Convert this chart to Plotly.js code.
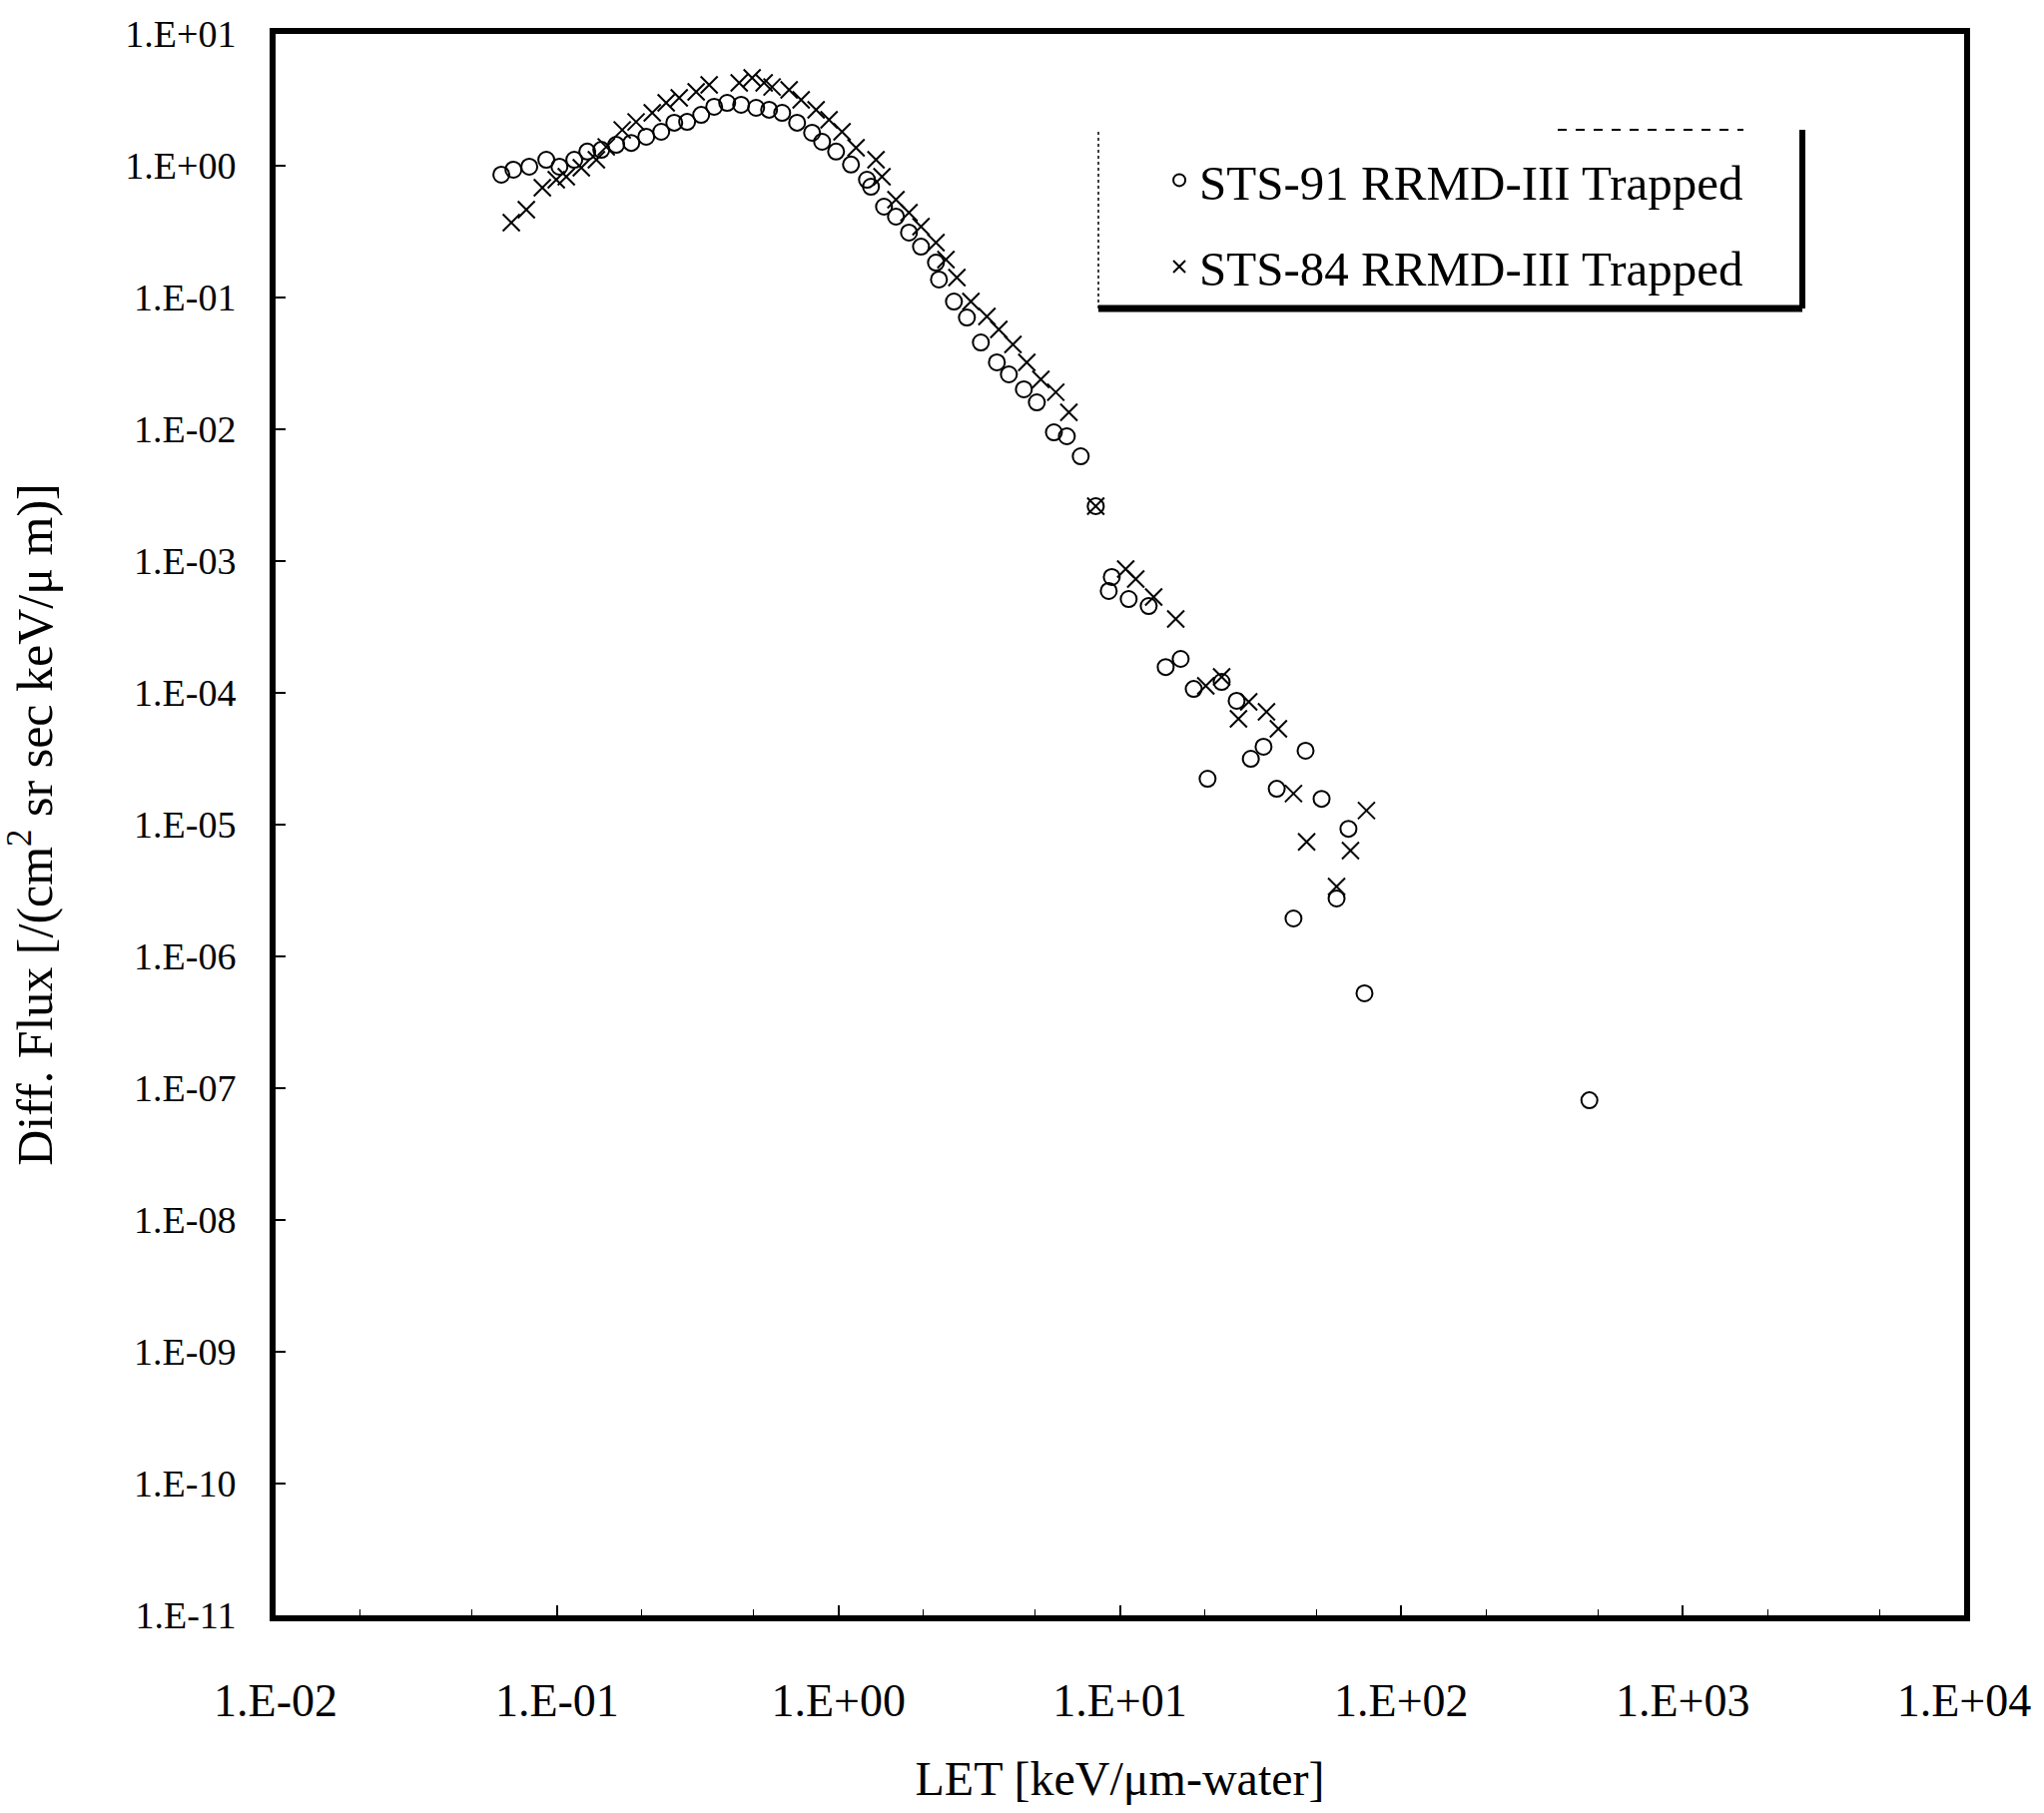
<!DOCTYPE html>
<html>
<head>
<meta charset="utf-8">
<script src="https://cdn.plot.ly/plotly-3.0.1.min.js"></script>
<style>
  html, body { margin: 0; padding: 0; background: #ffffff; }
  #chart { width: 2047px; height: 1816px; }
</style>
</head>
<body>
<div id="chart"></div>
<script>
// ---- Data ----
// STS-91 RRMD-III Trapped (open circles): LET [keV/um-water], Diff. Flux
const sts91LET = [
  0.0634, 0.070, 0.0797, 0.0916, 0.102, 0.1152, 0.1281, 0.1437, 0.1623, 0.1836,
  0.2075, 0.2346, 0.261, 0.290, 0.3253, 0.3618, 0.4024, 0.451, 0.510, 0.567,
  0.631, 0.713, 0.806, 0.875, 0.981, 1.108, 1.263, 1.305, 1.452, 1.601,
  1.781, 1.965, 2.221, 2.276, 2.573, 2.861, 3.207, 3.656, 4.033, 4.56,
  5.07, 5.83, 6.48, 7.26, 8.21,
  9.13, 9.36, 10.75, 12.66, 14.55, 16.45, 18.3, 20.5, 23.0, 26.0,
  29.2, 32.4, 36.1, 45.7, 52.1, 64.9, 58.9, 41.4, 74.0, 466
];
const sts91Flux = [
  0.855, 0.933, 0.983, 1.11, 0.983, 1.11, 1.28, 1.32, 1.44, 1.49,
  1.66, 1.81, 2.12, 2.15, 2.43, 2.80, 3.00, 2.90, 2.75, 2.66,
  2.52, 2.12, 1.78, 1.52, 1.28, 1.02, 0.783, 0.693, 0.489, 0.411,
  0.311, 0.243, 0.184, 0.137, 0.0932, 0.0705, 0.0456, 0.0322, 0.0261, 0.0201,
  0.0160, 0.00948, 0.00885, 0.00624, 0.00261,
  5.93e-4, 7.57e-4, 5.15e-4, 4.56e-4, 1.57e-4, 1.81e-4, 1.07e-4, 2.23e-5, 1.21e-4, 8.7e-5,
  3.16e-5, 3.9e-5, 1.87e-5, 3.64e-5, 1.57e-5, 9.3e-6, 2.75e-6, 1.94e-6, 5.25e-7, 8.1e-8
];

// STS-84 RRMD-III Trapped (crosses)
const sts84LET = [
  0.0688, 0.0778, 0.0887, 0.0994, 0.1079, 0.122, 0.138, 0.1496, 0.1705, 0.191,
  0.218, 0.2443, 0.2718, 0.3122, 0.3472, 0.444, 0.4935, 0.5445, 0.581, 0.668,
  0.737, 0.833, 0.926, 1.030, 1.155, 1.360, 1.428, 1.601, 1.781, 1.965,
  2.221, 2.41, 2.636, 2.956, 3.37, 3.715, 4.17, 4.67, 5.24, 5.92,
  6.59, 8.21,
  10.49, 11.39, 13.19, 15.80, 20.2, 23.0, 26.4, 28.7, 33.2, 36.6,
  41.4, 46.1, 58.9, 66.0, 75.2
];
const sts84Flux = [
  0.370, 0.464, 0.681, 0.783, 0.825, 0.966, 1.11, 1.39, 1.87, 2.15,
  2.52, 3.00, 3.27, 3.64, 4.11, 4.26, 4.64, 4.26, 3.96, 3.77,
  3.16, 2.66, 2.23, 1.81, 1.37, 1.11, 0.825, 0.553, 0.440, 0.345,
  0.261, 0.194, 0.1417, 0.0932, 0.0718, 0.0573, 0.044, 0.0322, 0.0239, 0.0191,
  0.01346, 0.00261,
  8.7e-4, 7.3e-4, 5.33e-4, 3.64e-4, 1.13e-4, 1.32e-4, 6.36e-5, 8.55e-5, 7.18e-5, 5.33e-5,
  1.72e-5, 7.4e-6, 3.39e-6, 6.35e-6, 1.28e-5
];

const seriesNames = ["STS-91 RRMD-III Trapped", "STS-84 RRMD-III Trapped"];

// Tick labels
const xTickVals = [1e-2, 1e-1, 1e0, 1e1, 1e2, 1e3, 1e4];
const xTickText = ["1.E-02", "1.E-01", "1.E+00", "1.E+01", "1.E+02", "1.E+03", "1.E+04"];
const yTickVals = [1e1, 1e0, 1e-1, 1e-2, 1e-3, 1e-4, 1e-5, 1e-6, 1e-7, 1e-8, 1e-9, 1e-10, 1e-11];
const yTickText = ["1.E+01", "1.E+00", "1.E-01", "1.E-02", "1.E-03", "1.E-04", "1.E-05",
                   "1.E-06", "1.E-07", "1.E-08", "1.E-09", "1.E-10", "1.E-11"];

const xTitle = "LET [keV/μm-water]";
const yTitle = "Diff. Flux [/(cm<sup>2</sup> sr sec keV/μ m)]";

// ---- Plot ----
const FONT = "Liberation Serif, Times New Roman, serif";

const traces = [
  {
    x: sts91LET, y: sts91Flux, name: seriesNames[0], type: "scatter", mode: "markers",
    legendgroup: "a",
    marker: { symbol: "circle-open", size: 16, color: "#000", line: { width: 2, color: "#000" } }
  },
  {
    x: sts84LET, y: sts84Flux, name: seriesNames[1], type: "scatter", mode: "markers",
    legendgroup: "b",
    marker: { symbol: "x-thin-open", size: 17, color: "#000", line: { width: 2, color: "#000" } }
  }
];

const layout = {
  width: 2047, height: 1816,
  paper_bgcolor: "#fff", plot_bgcolor: "#fff",
  margin: { l: 276, r: 80, t: 34, b: 198 },
  font: { family: FONT, color: "#000", size: 44 },
  showlegend: true,
  legend: {
    x: 0.5234, y: 0.9318, xanchor: "left", yanchor: "top",
    bgcolor: "rgba(255,255,255,0)", borderwidth: 0,
    font: { family: FONT, size: 49, color: "#000" },
    traceorder: "grouped", tracegroupgap: 20,
    itemsizing: "constant"
  },
  xaxis: {
    type: "log", range: [-2, 4],
    tickvals: xTickVals, ticktext: xTickText,
    tickfont: { family: FONT, size: 46, color: "#000" },
    ticks: "inside", ticklen: 10, tickwidth: 2, tickcolor: "#000",
    minor: { ticks: "inside", ticklen: 6, tickwidth: 1, tickcolor: "#000", showgrid: false },
    ticklabelstandoff: 40,
    showline: true, linecolor: "#000", linewidth: 6, mirror: true,
    showgrid: false, zeroline: false,
    title: { text: xTitle, font: { family: FONT, size: 48, color: "#000" }, standoff: 38 }
  },
  yaxis: {
    type: "log", range: [-11, 1],
    tickvals: yTickVals, ticktext: yTickText,
    tickfont: { family: FONT, size: 38, color: "#000" },
    ticks: "inside", ticklen: 10, tickwidth: 2, tickcolor: "#000",
    minor: { ticks: "inside", ticklen: 6, tickwidth: 1, tickcolor: "#000", showgrid: false },
    ticklabelstandoff: 26,
    showline: true, linecolor: "#000", linewidth: 6, mirror: true,
    showgrid: false, zeroline: false,
    title: { text: yTitle, font: { family: FONT, size: 50, color: "#000" }, standoff: 62 }
  },
  shapes: [
    // legend frame: heavy right and bottom edges, faint dotted left and top
    { type: "line", xref: "paper", yref: "paper", x0: 0.9042, x1: 0.9042, y0: 0.8264, y1: 0.9394,
      line: { color: "#000", width: 6 } },
    { type: "line", xref: "paper", yref: "paper", x0: 0.4873, x1: 0.9042, y0: 0.8264, y1: 0.8264,
      line: { color: "#000", width: 7 } },
    { type: "line", xref: "paper", yref: "paper", x0: 0.4873, x1: 0.4873, y0: 0.8264, y1: 0.9394,
      line: { color: "#000", width: 1.5, dash: "dot" } },
    { type: "line", xref: "paper", yref: "paper", x0: 0.7593, x1: 0.8693, y0: 0.9394, y1: 0.9394,
      line: { color: "#000", width: 2, dash: "dash" } }
  ]
};

Plotly.newPlot("chart", traces, layout, { displayModeBar: false, staticPlot: true });
</script>
</body>
</html>
